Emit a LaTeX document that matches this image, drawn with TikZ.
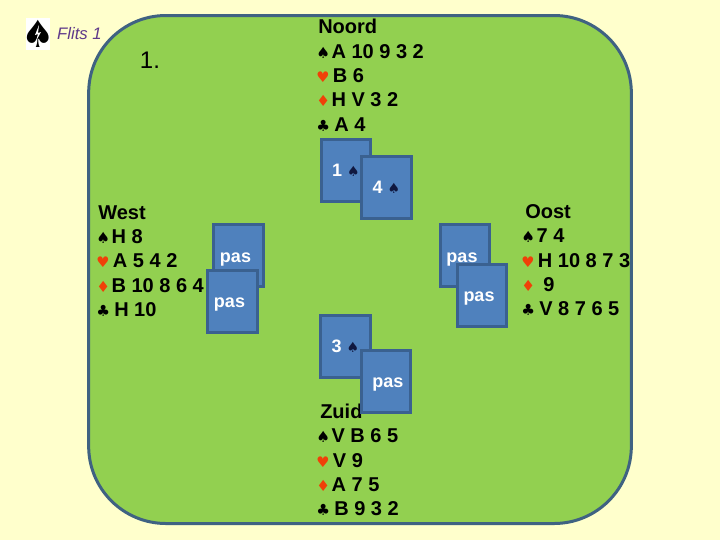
\documentclass[tikz,border=0pt]{standalone}
\usepackage{fontspec}
\setmainfont{Liberation Sans}
\newfontfamily\suitfont{DejaVu Sans}
\usetikzlibrary{positioning}
\definecolor{paper}{HTML}{FFFFCC}
\definecolor{felt}{HTML}{92D050}
\definecolor{rim}{HTML}{3F6282}
\definecolor{cardblue}{HTML}{4F81BD}
\definecolor{cardrim}{HTML}{3A6190}
\definecolor{redsuit}{HTML}{F04008}
\definecolor{flitspurple}{HTML}{5F3A8A}
\definecolor{navysuit}{HTML}{101840}
\newcommand{\spd}{\makebox[11.5pt][l]{\suitfont\fontsize{11.5}{11.5}\selectfont ♠}}
\newcommand{\hrt}{\makebox[12.5pt][l]{\suitfont\fontsize{11}{11}\selectfont\textcolor{redsuit}{♥}}}
\newcommand{\dmd}{\makebox[11.5pt][l]{\suitfont\fontsize{11.5}{11.5}\selectfont\textcolor{redsuit}{♦}}}
\newcommand{\clb}{\makebox[13.5pt][l]{\suitfont\fontsize{11.5}{11.5}\selectfont ♣}}
\newcommand{\bidspd}{{\suitfont\fontsize{10.5}{10.5}\selectfont\textcolor{navysuit}{♠}}}
\newcommand{\pasleft}{\raisebox{-5pt}[0pt][0pt]{pas\hspace{4.5pt}}}
\newcommand{\pasmid}{\raisebox{-5pt}[0pt][0pt]{\hspace{3pt}pas}}
\begin{document}
\begin{tikzpicture}[
    x=0.75pt, y=-0.75pt,
    table/.style={rectangle, draw=rim, fill=felt, line width=2.25pt, rounded corners=58pt, minimum width=407pt, minimum height=381pt},
    card/.style={rectangle, draw=cardrim, fill=cardblue, line width=2.25pt, minimum width=37pt, minimum height=46.5pt, inner sep=0pt, text=white, font=\fontsize{13.5}{13.5}\selectfont\bfseries},
    hand/.style={align=left, inner sep=0pt, font=\fontsize{15}{18.3}\selectfont\bfseries}
  ]
    \useasboundingbox (0,0) rectangle (720,540);
    \fill[paper] (0,0) rectangle (720,540);

    % Table
    \node[table] (table) at (360,269.5) {};

    % Corner
    \node[rectangle, fill=white, minimum width=18pt, minimum height=24.5pt, inner sep=0pt] (logo) at (38,34) {\makebox[0pt]{\suitfont\fontsize{28}{28}\selectfont ♠}};
    \fill[white] (39,25) -- (35,35) -- (38,34) -- (36,41) -- (41,32) -- (38,33) -- cycle;
    \node[right=5pt of logo, inner sep=0pt, font=\fontsize{12.5}{12.5}\selectfont\itshape, text=flitspurple] (flits) {Flits 1};
    \node[font=\fontsize{18}{18}\selectfont] (board) at (150,60) {1.};

    % Hands
    \node[hand, anchor=north west] (noord) at (316,19) {\hspace{1.5pt}Noord\\\spd A 10 9 3 2\\\hrt B 6\\\dmd H V 3 2\\\clb A 4};
    \node[hand, anchor=north west] (west) at (96,205) {\hspace{1.5pt}West\\\spd H 8\\\hrt A 5 4 2\\\dmd B 10 8 6 4\\\clb H 10};
    \node[hand, anchor=north west] (oost) at (521,204) {\hspace{3pt}Oost\\\spd 7 4\\\hrt H 10 8 7 3\\\dmd\hspace{5pt}9\\\clb V 8 7 6 5};
    \node[hand, anchor=north west] (zuid) at (316,403.5) {\hspace{3pt}Zuid\\\spd V B 6 5\\\hrt V 9\\\dmd A 7 5\\\clb B 9 3 2};

    % Bidding cards
    \node[card] (bidn) at (346,170.5) {1 \bidspd};
    \node[card, below right=-36pt and -9pt of bidn] (bidnn) {4 \bidspd};
    \node[card] (bidw) at (238.5,255.5) {\pasleft};
    \node[card] (bidww) at (232.5,301) {\pasleft};
    \node[card] (bide) at (465,255.5) {\pasleft};
    \node[card] (bidee) at (482,295) {\pasleft};
    \node[card] (bids) at (345.5,346) {3 \bidspd};
    \node[card, below right=-22.5pt and -9pt of bids] (bidss) {\pasmid};
  \end{tikzpicture}
\end{document}
